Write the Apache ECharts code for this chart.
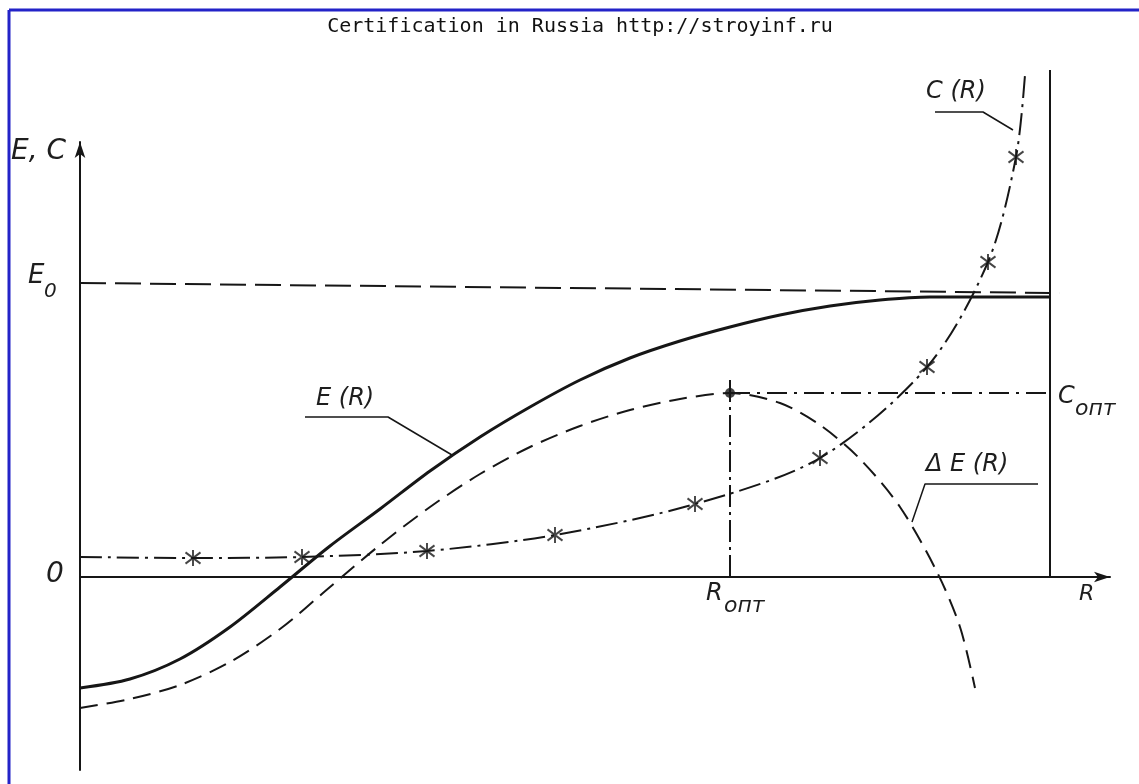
<!DOCTYPE html>
<html>
<head>
<meta charset="utf-8">
<script src="https://cdn.jsdelivr.net/npm/echarts@6/dist/echarts.min.js"></script>
<style>
  html, body { margin: 0; padding: 0; background: #fff; }
  #chart { width: 1139px; height: 784px; }
</style>
</head>
<body>
<div id="chart"></div>
<script>
// curve E(R), solid
const eCurve = [[0, -11.1], [5, -10.2], [10, -8.2], [15, -5.0], [20, -1.0], [25, 3.1], [30, 6.8],
  [35, 10.6], [40, 14.0], [45, 17.0], [50, 19.7], [55, 21.9], [60, 23.6], [65, 25.0], [70, 26.2],
  [75, 27.1], [80, 27.7], [85, 28.0], [90, 28.0], [97, 28.0]]
// curve dE(R), dashed
const dCurve = [[0, -13.1], [5, -12.2], [10, -10.8], [15, -8.5], [20, -5.2], [25, -1.0], [30, 3.2],
  [35, 7.0], [40, 10.3], [45, 13.0], [50, 15.1], [55, 16.7], [60, 17.8], [65, 18.4], [70, 17.4],
  [74, 15.2], [78, 11.8], [82, 7.0], [85.7, 0.5], [88, -5], [89.5, -11.1]]
// curve C(R), dash-dot, and its marked points
const cCurve = [[0, 2.0], [11.3, 1.9], [22.2, 2.0], [34.7, 2.6], [47.5, 4.2], [61.5, 7.3],
  [74, 11.9], [84.7, 21], [90.8, 31.5], [93.6, 42], [94.5, 50.2]]
const cMarks = [[11.3, 1.9], [22.2, 2.0], [34.7, 2.6], [47.5, 4.2], [61.5, 7.3], [74, 11.9],
  [84.7, 21], [90.8, 31.5], [93.6, 42]]
// reference lines
const e0Line = [[0, 29.4], [98, 28.4]]
const cOptLine = [[65, 18.4], [97, 18.4]]
const rOptLine = [[65, 0], [65, 20]]
const rightLine = [[97, 0], [97, 50.7]]
const optPoint = [[65, 18.4]]
// label leaders
const eLeader = [[22.5, 16], [30.8, 16], [37.2, 12.2]]
const dLeader = [[95.8, 9.3], [84.5, 9.3], [83.2, 5.5]]
const cLeader = [[85.5, 46.5], [90.3, 46.5], [93.3, 44.7]]

const ink = '#161616'
const asterisk = 'path://M0,-10L0,10M-9,-7L9,7M-9,7L9,-7'

function line(data, width, type, smooth) {
  return {
    type: 'line', data, smooth: smooth || false, clip: false, symbol: 'none',
    lineStyle: { color: ink, width, type }, silent: true
  }
}

function txt(text, x, y, size) {
  return {
    type: 'text', x, y, silent: true,
    style: { text, fill: '#1e1e1e', font: 'italic ' + size + 'px "DejaVu Sans"' }
  }
}

const chart = echarts.init(document.getElementById('chart'))

chart.setOption({
  animation: false,
  backgroundColor: '#fff',
  grid: { left: 80, right: 29, top: 142, bottom: 14 },
  xAxis: {
    type: 'value', min: 0, max: 103,
    axisLine: { show: true, onZero: true, symbol: ['none', 'arrow'], symbolSize: [8, 16], lineStyle: { color: ink, width: 2 } },
    axisTick: { show: false }, axisLabel: { show: false }, splitLine: { show: false }
  },
  yAxis: {
    type: 'value', min: -19.3, max: 43.5,
    axisLine: { show: true, symbol: ['none', 'arrow'], symbolSize: [8, 16], lineStyle: { color: ink, width: 2 } },
    axisTick: { show: false }, axisLabel: { show: false }, splitLine: { show: false }
  },
  series: [
    line(eCurve, 3, 'solid', 0.3),
    line(dCurve, 2, [18, 9], 0.3),
    line(cCurve, 2, [22, 6, 3, 6], 0.3),
    line(e0Line, 2, [26, 9]),
    line(cOptLine, 2, [20, 7, 3, 7]),
    line(rOptLine, 2, [22, 5, 3, 5]),
    line(rightLine, 2, 'solid'),
    line(eLeader, 1.5, 'solid'),
    line(dLeader, 1.5, 'solid'),
    line(cLeader, 1.5, 'solid'),
    {
      type: 'scatter', data: cMarks, symbol: asterisk, symbolSize: [15, 16], clip: false,
      itemStyle: { color: 'rgba(0,0,0,0)', borderColor: ink, borderWidth: 2 }
    },
    {
      type: 'scatter', data: optPoint, symbol: 'circle', symbolSize: 10, clip: false,
      itemStyle: { color: ink }
    }
  ],
  graphic: [
    // page frame
    { type: 'line', silent: true, shape: { x1: 9, y1: 10, x2: 1139, y2: 10 }, style: { stroke: '#2323c8', lineWidth: 3 } },
    { type: 'line', silent: true, shape: { x1: 9, y1: 10, x2: 9, y2: 784 }, style: { stroke: '#2323c8', lineWidth: 3 } },
    {
      type: 'text', x: 580, y: 27, silent: true,
      style: { text: 'Certification in Russia http://stroyinf.ru', fill: '#111', font: '20px "DejaVu Sans Mono"', align: 'center', verticalAlign: 'middle' }
    },
    txt('E, C', 11, 138, 28),
    txt('E', 28, 263, 26),
    txt('0', 44, 282, 20),
    txt('0', 46, 561, 28),
    txt('R', 706, 582, 24),
    txt('опт', 724, 595, 22),
    txt('R', 1079, 583, 22),
    txt('C', 1058, 385, 24),
    txt('опт', 1075, 398, 22),
    txt('E (R)', 316, 387, 24),
    txt('Δ E (R)', 926, 453, 24),
    txt('C (R)', 926, 80, 24)
  ]
})
</script>
</body>
</html>
